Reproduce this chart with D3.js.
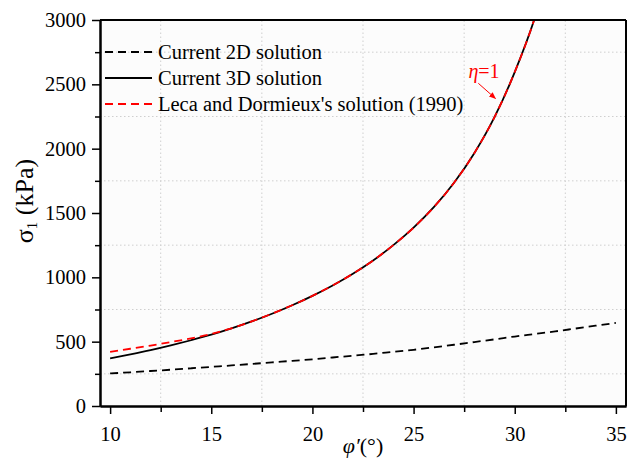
<!DOCTYPE html>
<html>
<head>
<meta charset="utf-8">
<script src="https://cdn.jsdelivr.net/npm/d3@7"></script>
<style>
  body { margin: 0; background: #fff; }
  text { font-family: "Liberation Serif", "Times New Roman", serif; }
</style>
</head>
<body>
<div id="chart"></div>
<script>
// data
let phi2D = [10, 11, 12, 13, 14, 15, 16, 17, 18, 19, 20, 21, 22, 23, 24, 25, 26, 27, 28, 29, 30, 31, 32, 33, 34, 35];
let sigma2D = [253, 262, 272, 282, 293, 304, 315, 327, 339, 351, 363, 377, 391, 405, 421, 437, 456, 476, 497, 518, 540, 560, 580, 602, 624, 646];

let phi3D = [10, 11, 12, 13, 14, 15, 16, 17, 18, 19, 20, 21, 22, 23, 24, 25, 26, 27, 28, 29, 30, 31, 32];
let sigma3D = [370, 401, 434, 471, 511, 554, 603, 657, 717, 783, 856, 937, 1028, 1131, 1250, 1386, 1545, 1735, 1965, 2245, 2595, 3020, 3580];
let sigmaLeca = [421, 445, 470, 497, 526, 560, 604, 657, 717, 783, 856, 937, 1028, 1131, 1250, 1386, 1545, 1735, 1965, 2245, 2595, 3020, 3580];

let xMajor = [10, 15, 20, 25, 30, 35];
let xMinor = [12.5, 17.5, 22.5, 27.5, 32.5];
let yMajor = [0, 500, 1000, 1500, 2000, 2500, 3000];
let yMinor = [250, 750, 1250, 1750, 2250, 2750];

let legendNames = ["Current 2D solution", "Current 3D solution", "Leca and Dormieux's solution (1990)"];

let width = 628, height = 460;
let margin = { top: 20, right: 2, bottom: 54, left: 100 };

let svg = d3.select("#chart")
    .append("svg")
    .attr("width", width)
    .attr("height", height);

let x = d3.scaleLinear().domain([9.5, 35.5]).range([margin.left, width - margin.right]);
let y = d3.scaleLinear().domain([0, 3000]).range([height - margin.bottom, margin.top]);

// plot background
svg.append("rect")
    .attr("x", x(9.5)).attr("y", y(3000))
    .attr("width", x(35.5) - x(9.5)).attr("height", y(0) - y(3000))
    .attr("fill", "#fcfcfc");

// dotted grid at the minor positions
svg.append("g").selectAll("line")
    .data(xMinor)
    .enter().append("line")
    .attr("x1", d => x(d)).attr("x2", d => x(d))
    .attr("y1", y(0)).attr("y2", y(3000))
    .attr("stroke", "#cfcfcf").attr("stroke-dasharray", "1.5,2.5");

svg.append("g").selectAll("line")
    .data(yMinor)
    .enter().append("line")
    .attr("x1", x(9.5)).attr("x2", x(35.5))
    .attr("y1", d => y(d)).attr("y2", d => y(d))
    .attr("stroke", "#cfcfcf").attr("stroke-dasharray", "1.5,2.5");

svg.append("clipPath").attr("id", "clip")
    .append("rect")
    .attr("x", x(9.5)).attr("y", y(3000))
    .attr("width", x(35.5) - x(9.5)).attr("height", y(0) - y(3000));

let line = d3.line()
    .x(d => x(d[0]))
    .y(d => y(d[1]))
    .curve(d3.curveMonotoneX);

let curves = svg.append("g").attr("clip-path", "url(#clip)");

curves.append("path")
    .attr("d", line(d3.zip(phi2D, sigma2D)))
    .attr("fill", "none").attr("stroke", "#000")
    .attr("stroke-width", 1.8).attr("stroke-dasharray", "8,5");

curves.append("path")
    .attr("d", line(d3.zip(phi3D, sigma3D)))
    .attr("fill", "none").attr("stroke", "#000")
    .attr("stroke-width", 1.8);

curves.append("path")
    .attr("d", line(d3.zip(phi3D, sigmaLeca)))
    .attr("fill", "none").attr("stroke", "#ff0000")
    .attr("stroke-width", 1.8).attr("stroke-dasharray", "8,5");

// axes
svg.append("g")
    .attr("transform", `translate(0,${y(0)})`)
    .call(d3.axisBottom(x).tickValues(xMajor).tickSize(8).tickSizeOuter(0).tickPadding(12).tickFormat(d3.format("d")));
svg.append("g")
    .attr("transform", `translate(0,${y(0)})`)
    .call(d3.axisBottom(x).tickValues(xMinor).tickSize(6).tickSizeOuter(0).tickFormat(""));

svg.append("g")
    .attr("transform", `translate(${x(9.5)},0)`)
    .call(d3.axisLeft(y).tickValues(yMajor).tickSize(8).tickSizeOuter(0).tickPadding(6).tickFormat(d3.format("d")));
svg.append("g")
    .attr("transform", `translate(${x(9.5)},0)`)
    .call(d3.axisLeft(y).tickValues(yMinor).tickSize(5).tickSizeOuter(0).tickFormat(""));

svg.selectAll(".domain").attr("stroke", "#000").attr("stroke-width", 2);
svg.selectAll(".tick line").attr("stroke", "#000").attr("stroke-width", 1.5);
svg.selectAll(".tick text")
    .attr("font-family", "Liberation Serif")
    .attr("font-size", 20.5)
    .attr("fill", "#000");

// top and right frame
svg.append("line")
    .attr("x1", x(9.5)).attr("x2", x(35.5)).attr("y1", y(3000)).attr("y2", y(3000))
    .attr("stroke", "#000").attr("stroke-width", 2);
svg.append("line")
    .attr("x1", x(35.5)).attr("x2", x(35.5)).attr("y1", y(3000)).attr("y2", y(0))
    .attr("stroke", "#000").attr("stroke-width", 2);

// axis titles
svg.append("text")
    .attr("x", (x(9.5) + x(35.5)) / 2)
    .attr("y", 453)
    .attr("text-anchor", "middle")
    .attr("font-size", 22)
    .html('<tspan font-style="italic">φ′</tspan>(°)');

svg.append("text")
    .attr("transform", "translate(33,201) rotate(-90)")
    .attr("text-anchor", "middle")
    .attr("font-size", 26)
    .html('<tspan>σ</tspan><tspan font-size="15" dy="4">1</tspan><tspan dy="-4"> (kPa)</tspan>');

// legend
let legend = svg.append("g");
let legendStyles = [
    { color: "#000", dash: "8,5" },
    { color: "#000", dash: null },
    { color: "#ff0000", dash: "8,5" }
];
legendNames.forEach(function (name, i) {
    let ly = 52 + i * 26;
    legend.append("line")
        .attr("x1", 105).attr("x2", 152)
        .attr("y1", ly).attr("y2", ly)
        .attr("stroke", legendStyles[i].color)
        .attr("stroke-width", 1.8)
        .attr("stroke-dasharray", legendStyles[i].dash);
    legend.append("text")
        .attr("x", 158).attr("y", ly + 7)
        .attr("font-size", 20.5)
        .text(name);
});

// eta annotation
svg.append("defs").append("marker")
    .attr("id", "arrow")
    .attr("viewBox", "0 0 10 10")
    .attr("refX", 9).attr("refY", 5)
    .attr("markerWidth", 7).attr("markerHeight", 7)
    .attr("orient", "auto")
    .append("path")
    .attr("d", "M0,1 L10,5 L0,9 Z")
    .attr("fill", "#ff0000");

svg.append("line")
    .attr("x1", x(28.2)).attr("y1", y(2508))
    .attr("x2", x(29.05)).attr("y2", y(2390))
    .attr("stroke", "#ff0000").attr("stroke-width", 1)
    .attr("marker-end", "url(#arrow)");

svg.append("text")
    .attr("x", x(27.71)).attr("y", y(2547))
    .attr("font-size", 20)
    .attr("fill", "#ff0000")
    .html('<tspan font-style="italic">η</tspan>=1');
</script>
</body>
</html>
